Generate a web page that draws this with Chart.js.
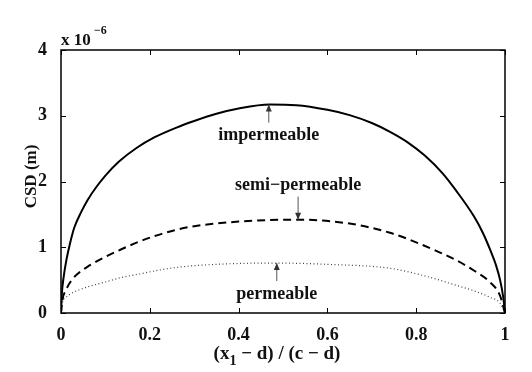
<!DOCTYPE html>
<html>
<head>
<meta charset="utf-8">
<script src="https://cdn.jsdelivr.net/npm/chart.js@4"></script>
<style>
  html, body { margin: 0; padding: 0; background: #fff; }
  #wrap { width: 532px; height: 372px; }
</style>
</head>
<body>
<div id="wrap"><canvas id="csdChart" width="532" height="372"></canvas></div>
<script>
// values in units of 10^-6 m
const xImperm = [0, 0.002, 0.006, 0.012, 0.02, 0.03, 0.045, 0.06, 0.08, 0.1, 0.13, 0.17, 0.21, 0.26, 0.3, 0.35, 0.4, 0.47, 0.53, 0.6, 0.65, 0.7, 0.74, 0.78, 0.82, 0.86, 0.89, 0.93, 0.95, 0.966, 0.98, 0.989, 0.996, 1];
const yImperm = [0, 0.30, 0.55, 0.80, 1.05, 1.30, 1.53, 1.72, 1.92, 2.09, 2.30, 2.51, 2.67, 2.82, 2.92, 3.03, 3.11, 3.17, 3.16, 3.09, 3.01, 2.89, 2.76, 2.60, 2.39, 2.12, 1.86, 1.47, 1.22, 0.97, 0.72, 0.50, 0.24, 0];

const xSemi = [0, 0.003, 0.012, 0.024, 0.04, 0.061, 0.099, 0.136, 0.174, 0.211, 0.256, 0.3, 0.4, 0.53, 0.65, 0.741, 0.816, 0.891, 0.929, 0.966, 0.989, 1];
const ySemi = [0, 0.19, 0.36, 0.50, 0.61, 0.71, 0.85, 0.97, 1.08, 1.17, 1.26, 1.32, 1.39, 1.42, 1.36, 1.22, 1.03, 0.80, 0.65, 0.47, 0.26, 0];

const xPerm = [0, 0.003, 0.012, 0.024, 0.04, 0.061, 0.099, 0.136, 0.174, 0.211, 0.256, 0.35, 0.48, 0.6, 0.741, 0.816, 0.891, 0.929, 0.966, 0.989, 1];
const yPerm = [0, 0.15, 0.24, 0.30, 0.35, 0.40, 0.47, 0.54, 0.59, 0.64, 0.69, 0.74, 0.76, 0.74, 0.68, 0.57, 0.42, 0.34, 0.24, 0.15, 0];

const xTicks = [0, 0.2, 0.4, 0.6, 0.8, 1];
const yTicks = [0, 1, 2, 3, 4];

// label text, anchor point on curve (data units)
const labels = [
  { text: 'impermeable', x: 0.468, y: 3.17, dir: 'up' },
  { text: 'semi\u2212permeable', x: 0.534, y: 1.42, dir: 'down' },
  { text: 'permeable', x: 0.486, y: 0.76, dir: 'up' }
];

function toPts(xs, ys) {
  return xs.map((x, i) => ({ x: x, y: ys[i] }));
}

const SERIF = '"Liberation Serif", "Times New Roman", serif';

function arrowHead(ctx, x, y, up) {
  const s = up ? 1 : -1;
  ctx.beginPath();
  ctx.moveTo(x, y);
  ctx.lineTo(x - 3, y + s * 7);
  ctx.lineTo(x + 3, y + s * 7);
  ctx.closePath();
  ctx.fill();
}

const decor = {
  id: 'decor',
  afterDraw(chart) {
    const ctx = chart.ctx;
    const a = chart.chartArea;
    const xs = chart.scales.x;
    const ys = chart.scales.y;
    ctx.save();

    // box + inward ticks
    ctx.strokeStyle = '#000';
    ctx.lineWidth = 1.5;
    ctx.strokeRect(a.left, a.top, a.right - a.left, a.bottom - a.top);
    ctx.lineWidth = 1;
    ctx.beginPath();
    xTicks.forEach(v => {
      const px = Math.round(xs.getPixelForValue(v)) + 0.5;
      ctx.moveTo(px, a.bottom); ctx.lineTo(px, a.bottom - 5);
      ctx.moveTo(px, a.top); ctx.lineTo(px, a.top + 5);
    });
    yTicks.forEach(v => {
      const py = Math.round(ys.getPixelForValue(v)) + 0.5;
      ctx.moveTo(a.left, py); ctx.lineTo(a.left + 5, py);
      ctx.moveTo(a.right, py); ctx.lineTo(a.right - 5, py);
    });
    ctx.stroke();

    // curve labels with arrows
    ctx.strokeStyle = '#555';
    ctx.font = 'bold 18px ' + SERIF;
    ctx.textAlign = 'center';
    ctx.textBaseline = 'middle';
    labels.forEach(l => {
      const px = xs.getPixelForValue(l.x);
      const py = ys.getPixelForValue(l.y);
      let ty, y0;
      if (l.dir === 'up') {
        ty = py + 31;
        y0 = py + 18;
      } else {
        ty = py - 34;
        y0 = py - 23;
      }
      ctx.fillStyle = '#111';
      ctx.fillText(l.text, px, ty);
      ctx.beginPath();
      ctx.moveTo(px, y0);
      ctx.lineTo(px, py);
      ctx.stroke();
      ctx.fillStyle = '#333';
      arrowHead(ctx, px, py, l.dir === 'up');
    });

    // y axis title
    ctx.fillStyle = '#111';
    ctx.save();
    ctx.translate(32, (a.top + a.bottom) / 2 - 5);
    ctx.rotate(-Math.PI / 2);
    ctx.font = 'bold 17px ' + SERIF;
    ctx.textAlign = 'center';
    ctx.textBaseline = 'middle';
    ctx.fillText('CSD (m)', 0, 0);
    ctx.restore();

    // x axis title with subscript
    ctx.textAlign = 'left';
    ctx.textBaseline = 'alphabetic';
    const mainFont = 'bold 19px ' + SERIF;
    const subFont = 'bold 14px ' + SERIF;
    const part1 = '(x';
    const part2 = '1';
    const part3 = ' \u2212 d) / (c \u2212 d)';
    ctx.font = mainFont;
    const w1 = ctx.measureText(part1).width;
    const w3 = ctx.measureText(part3).width;
    ctx.font = subFont;
    const w2 = ctx.measureText(part2).width;
    const sx = (a.left + a.right) / 2 - 6 - (w1 + w2 + w3) / 2;
    const by = 359;
    ctx.font = mainFont;
    ctx.fillText(part1, sx, by);
    ctx.font = subFont;
    ctx.fillText(part2, sx + w1, by + 6);
    ctx.font = mainFont;
    ctx.fillText(part3, sx + w1 + w2, by);

    // exponent above axis
    ctx.font = 'bold 17px ' + SERIF;
    ctx.fillText('x 10', a.left, 45);
    ctx.font = 'bold 12px ' + SERIF;
    ctx.fillText('\u22126', a.left + 33, 34);

    ctx.restore();
  }
};

const ctx = document.getElementById('csdChart').getContext('2d');
new Chart(ctx, {
  type: 'line',
  data: {
    datasets: [
      {
        label: 'impermeable',
        data: toPts(xImperm, yImperm),
        borderColor: '#000',
        borderWidth: 2,
        pointRadius: 0,
        cubicInterpolationMode: 'monotone'
      },
      {
        label: 'semi-permeable',
        data: toPts(xSemi, ySemi),
        borderColor: '#000',
        borderWidth: 2,
        borderDash: [8, 5],
        pointRadius: 0,
        cubicInterpolationMode: 'monotone'
      },
      {
        label: 'permeable',
        data: toPts(xPerm, yPerm),
        borderColor: '#444',
        borderWidth: 1.2,
        borderDash: [1, 2.5],
        pointRadius: 0,
        cubicInterpolationMode: 'monotone'
      }
    ]
  },
  options: {
    responsive: false,
    animation: false,
    layout: { padding: { left: 0, right: 27, top: 50, bottom: 0 } },
    plugins: {
      legend: { display: false },
      tooltip: { enabled: false }
    },
    scales: {
      x: {
        type: 'linear',
        min: 0,
        max: 1,
        afterBuildTicks: s => { s.ticks = xTicks.map(v => ({ value: v })); },
        afterFit: s => { s.height = 59; },
        grid: { display: false },
        border: { display: false },
        ticks: {
          color: '#111',
          padding: 4,
          font: { family: SERIF, size: 18, weight: 'bold' },
          callback: v => String(v)
        }
      },
      y: {
        type: 'linear',
        min: 0,
        max: 4,
        afterBuildTicks: s => { s.ticks = yTicks.map(v => ({ value: v })); },
        afterFit: s => { s.width = 61; },
        grid: { display: false },
        border: { display: false },
        ticks: {
          color: '#111',
          padding: 6,
          font: { family: SERIF, size: 18, weight: 'bold' },
          callback: v => String(v)
        }
      }
    }
  },
  plugins: [decor]
});
</script>
</body>
</html>
